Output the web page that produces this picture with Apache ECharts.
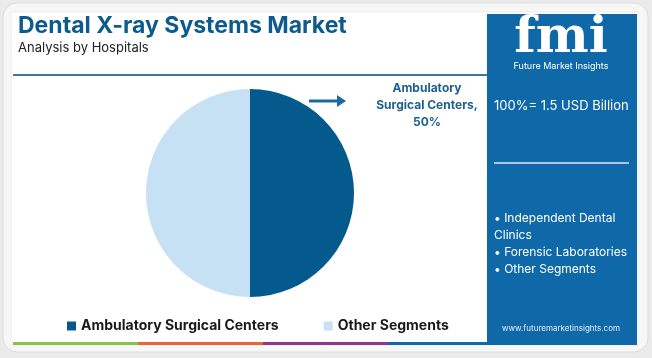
<!DOCTYPE html>
<html><head><meta charset="utf-8">
<script src="https://cdn.jsdelivr.net/npm/echarts@6/dist/echarts.min.js"></script>
<style>html,body{margin:0;padding:0;background:#ebebeb;}#c{width:652px;height:358px;}</style>
</head><body><div id="c"></div>
<script>
const categories = ["Ambulatory Surgical Centers", "Other Segments"];
const values = [50, 50];
const colors = ["#045a8d", "#c6e1f3"];
const titleText = "Dental X-ray Systems Market";
const subtitleText = "Analysis by Hospitals";
const totalText = "100%= 1.5 USD Billion";
const otherSegments = ["• Independent Dental", "Clinics", "• Forensic Laboratories", "• Other Segments"];

const chart = echarts.init(document.getElementById('c'), null, {renderer: 'canvas'});
const F = "Inter, 'Open Sans', sans-serif";
const panelBlue = "#0f68a8";

const bulletTexts = otherSegments.map((t, i) => ({
  type: 'text', left: 494, top: 212 + i * 17, z: 10,
  style: {text: t, fill: '#ffffff', font: '12px ' + F}
}));

chart.setOption({
  animation: false,
  backgroundColor: '#ebebeb',
  graphic: [
    {type: 'rect', shape: {x: 3, y: 3, width: 645, height: 349, r: 14}, style: {fill: '#f7f7f7', stroke: '#dcdcdc', lineWidth: 1}, z: 0},
    {type: 'rect', shape: {x: 11, y: 12, width: 627, height: 333}, style: {fill: '#ffffff', stroke: '#ececec', lineWidth: 1}, z: 1},
    {type: 'rect', shape: {x: 487, y: 14, width: 150, height: 331}, style: {fill: panelBlue}, z: 2},
    {type: 'rect', shape: {x: 13, y: 342, width: 125, height: 3}, style: {fill: '#8bc34a'}, z: 3},
    {type: 'rect', shape: {x: 138, y: 342, width: 125, height: 3}, style: {fill: '#e8643a'}, z: 3},
    {type: 'rect', shape: {x: 263, y: 342, width: 125, height: 3}, style: {fill: '#8e3a8c'}, z: 3},
    {type: 'rect', shape: {x: 388, y: 342, width: 99, height: 3}, style: {fill: panelBlue}, z: 3},
    {type: 'text', left: 18, top: 15, z: 10, style: {text: titleText, fill: '#0d5b8c', font: 'bold 23px ' + F}},
    {type: 'text', left: 18, top: 42, z: 10, style: {text: subtitleText, fill: '#222222', font: '13px ' + F}},
    {type: 'line', shape: {x1: 13, y1: 75, x2: 487, y2: 75}, style: {stroke: '#3a78a3', lineWidth: 2}, z: 10},
    {type: 'line', shape: {x1: 309, y1: 101, x2: 340, y2: 101}, style: {stroke: '#1d6aa0', lineWidth: 3}, z: 10},
    {type: 'polygon', shape: {points: [[337, 95], [346, 101], [337, 107]]}, style: {fill: '#1d6aa0'}, z: 10},
    {type: 'text', x: 427, y: 80, z: 10, style: {text: 'Ambulatory\nSurgical Centers,\n50%', fill: '#1d5f8f', font: 'bold 12px ' + F, textAlign: 'center', lineHeight: 17}},
    {type: 'text', x: 561, y: 14, z: 10, style: {text: 'fmi', fill: '#ffffff', font: 'bold 50px "DejaVu Serif", serif', textAlign: 'center'}},
    {type: 'text', x: 561, y: 62, z: 10, style: {text: 'Future Market Insights', fill: '#ffffff', font: '9px ' + F, textAlign: 'center'}},
    {type: 'text', left: 494, top: 100, z: 10, style: {text: totalText, fill: '#ffffff', font: '13px ' + F}},
    {type: 'line', shape: {x1: 494, y1: 163, x2: 629, y2: 163}, style: {stroke: '#a9c8e0', lineWidth: 2}, z: 10},
    ...bulletTexts,
    {type: 'text', x: 561, y: 325, z: 10, style: {text: 'www.futuremarketinsights.com', fill: '#e6eef6', font: '8px ' + F, textAlign: 'center'}}
  ],
  legend: {
    data: categories,
    left: 62, top: 314, itemGap: 45, itemWidth: 9, itemHeight: 9, icon: 'rect',
    textStyle: {color: '#1a1a1a', fontSize: 14, fontWeight: 'bold', fontFamily: F}, z: 10
  },
  series: [{
    type: 'pie', center: [250, 193], radius: [0, 104], startAngle: 90, clockwise: true,
    label: {show: false}, labelLine: {show: false}, z: 5,
    itemStyle: {borderWidth: 0},
    data: categories.map((c, i) => ({name: c, value: values[i], itemStyle: {color: colors[i]}}))
  }]
});
</script></body></html>
